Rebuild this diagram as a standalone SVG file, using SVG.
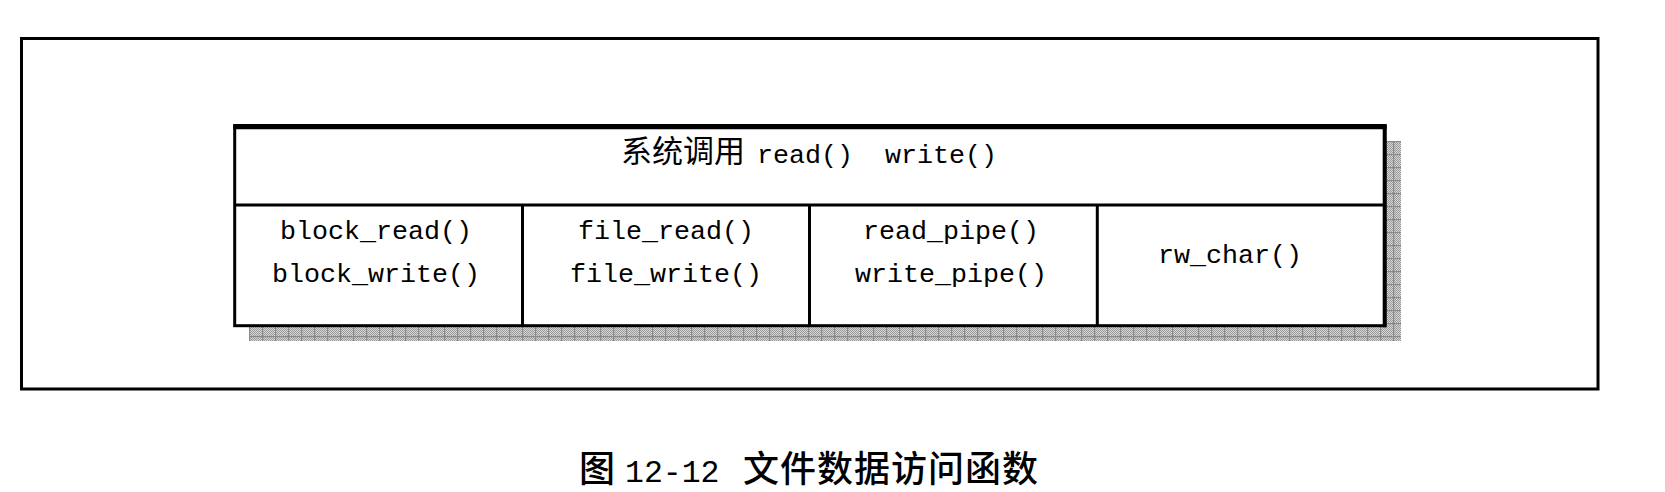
<svg xmlns="http://www.w3.org/2000/svg" width="1665" height="492" viewBox="0 0 1665 492">
  <style>
    .frame { fill: none; stroke: #000; stroke-width: 3; }
    .cell { fill: #fff; stroke: #000; stroke-width: 3; }
    .line { stroke: #000; stroke-width: 3; }
    .mono { font-family: "Liberation Mono", "DejaVu Sans Mono", monospace; font-size: 26.7px; fill: #000; }
    .cjk { font-family: "Noto Sans CJK SC", "Noto Sans", sans-serif; fill: #000; }
  </style>
  <defs>
    <pattern id="checker" width="2" height="2" patternUnits="userSpaceOnUse">
      <rect width="2" height="2" fill="#d6d6d6"/>
      <rect width="1" height="1" fill="#9a9a9a"/>
      <rect x="1" y="1" width="1" height="1" fill="#9a9a9a"/>
    </pattern>
    <pattern id="grid" x="249" y="141" width="13" height="13" patternUnits="userSpaceOnUse">
      <rect x="0" y="0" width="1.2" height="13" fill="#8a8a8a"/>
      <rect x="0" y="0" width="13" height="1.2" fill="#8a8a8a"/>
    </pattern>
  </defs>

  <g id="outer-frame">
    <rect class="frame" x="21.5" y="38.5" width="1576.5" height="350.5"/>
  </g>

  <g id="shadow">
    <rect x="249" y="141" width="1152" height="200" fill="url(#checker)"/>
    <rect x="249" y="141" width="1152" height="200" fill="url(#grid)"/>
  </g>

  <g id="table">
    <rect class="cell" x="234.7" y="126.7" width="1150" height="199"/>
    <line x1="233.2" y1="126.7" x2="1386.7" y2="126.7" stroke="#000" stroke-width="5.3"/>
    <line x1="1384.7" y1="125" x2="1384.7" y2="327.3" stroke="#000" stroke-width="4"/>
  </g>

  <g id="connectors">
    <line class="line" x1="234.7" y1="205" x2="1384.7" y2="205"/>
    <line class="line" x1="522.5" y1="205" x2="522.5" y2="325.8"/>
    <line class="line" x1="809.5" y1="205" x2="809.5" y2="325.8"/>
    <line class="line" x1="1097.3" y1="205" x2="1097.3" y2="325.8"/>
  </g>

  <g id="header">
    <text class="cjk" x="621" y="162" font-size="31">系统调用</text>
    <text class="mono" x="757" y="163">read()</text>
    <text class="mono" x="885" y="163">write()</text>
  </g>

  <g id="block">
    <text class="mono" x="376" y="239" text-anchor="middle">block_read()</text>
    <text class="mono" x="376" y="281.5" text-anchor="middle">block_write()</text>
  </g>

  <g id="file">
    <text class="mono" x="666" y="239" text-anchor="middle">file_read()</text>
    <text class="mono" x="666" y="281.5" text-anchor="middle">file_write()</text>
  </g>

  <g id="pipe">
    <text class="mono" x="951" y="239" text-anchor="middle">read_pipe()</text>
    <text class="mono" x="951" y="281.5" text-anchor="middle">write_pipe()</text>
  </g>

  <g id="char">
    <text class="mono" x="1230" y="262.5" text-anchor="middle">rw_char()</text>
  </g>

  <g id="caption">
    <text class="cjk" x="579" y="482" font-size="36" font-weight="500">图</text>
    <text x="625" y="482" font-family="Liberation Mono, DejaVu Sans Mono, monospace" font-size="31.5" fill="#000">12-12</text>
    <text class="cjk" x="743" y="482" font-size="36" font-weight="500" letter-spacing="1">文件数据访问函数</text>
  </g>
</svg>
